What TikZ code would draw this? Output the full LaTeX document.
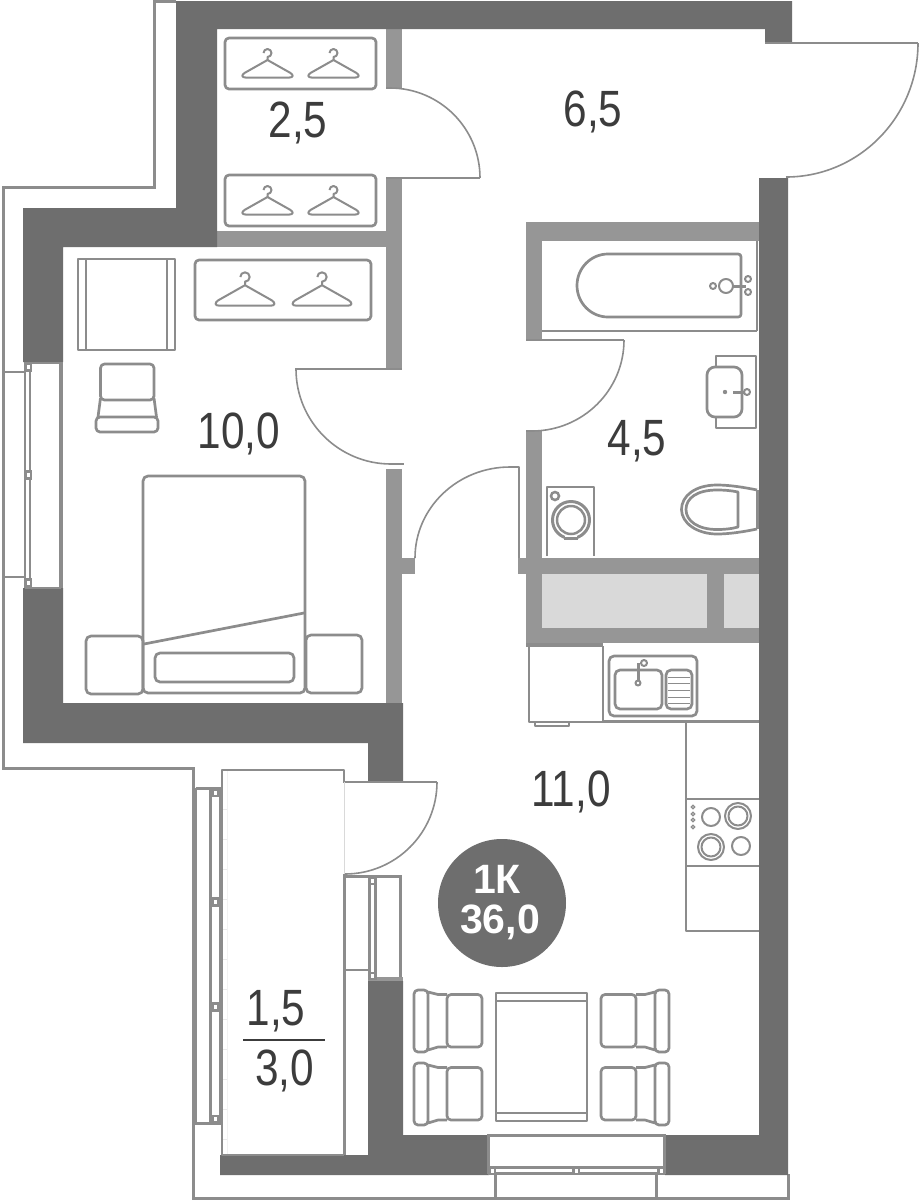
\documentclass[tikz,border=0pt]{standalone}
\usepackage{fontspec}
\setmainfont{Liberation Sans}
\usetikzlibrary{calc}
\definecolor{walldark}{HTML}{6E6E6E}
\definecolor{walllight}{HTML}{969696}
\definecolor{furn}{HTML}{8C8C8C}
\definecolor{shaft}{HTML}{D9D9D9}
\definecolor{numcol}{HTML}{3C3C3C}
\tikzset{
  dark/.style={fill=walldark,draw=none},
  light/.style={fill=walllight,draw=none},
  fline/.style={draw=furn,line width=2.7pt,line join=round},
  fthin/.style={draw=furn,line width=2pt,line join=round},
  rail/.style={draw=furn,line width=3pt,line join=miter},
  doorline/.style={draw=furn,line width=1.6pt},
  lbl/.style={anchor=base,inner sep=0pt,text=numcol,font=\fontsize{51}{51}\selectfont},
  badgetxt/.style={anchor=base,inner sep=0pt,text=white,font=\bfseries\fontsize{41}{41}\selectfont},
}
\newcommand{\doorarc}[3]{\draw[doorline] (#1) .. controls ($(#1)!.5523!(#2)$) and ($(#3)!.5523!(#2)$) .. (#3);}
\newcommand{\myhanger}[3]{\begin{scope}[shift={(#1,#2)},scale=#3]
 \draw[fthin] (0,7) -- (0,4) .. controls (2.2,4) and (4,2.2) .. (4,0) .. controls (4,-2.2) and (2.2,-4) .. (0,-4) .. controls (-2.2,-4) and (-4,-2.2) .. (-4,0);
 \draw[fthin] (0,7) -- (-23,20) .. controls (-26,22) and (-26,24.5) .. (-22,24.5) -- (22,24.5) .. controls (26,24.5) and (26,22) .. (23,20) -- cycle;
\end{scope}}
\newcommand{\mychair}[2]{%
 \draw[fline,rounded corners=4pt] (0,0) rectangle (14,62);
 \draw[fline,rounded corners=4pt] (33,4.5) rectangle (68,57);
 \draw[fline] (14,2) -- (24,4.5) -- (33,4.5);
 \draw[fline] (14,60) -- (24,57) -- (33,57);
}
% a frame block with a small white hole: x1 y1 x2 y2
\newcommand{\fblock}[4]{\fill[furn] (#1,#2) rectangle (#3,#4);
 \fill[white] ($(#1,#2)!.5!(#3,#4)+(-1.5,-2)$) rectangle ($(#1,#2)!.5!(#3,#4)+(1.5,2)$);}
\begin{document}
\begin{tikzpicture}[x=1pt,y=-1pt]
\useasboundingbox (0,0) rectangle (919,1200);
\fill[white] (0,0) rectangle (919,1200);
% railing
\draw[rail] (176,1) -- (154,1) -- (154,187) -- (3,187) -- (3,768) -- (193,768) -- (193,1198) -- (788,1198) -- (788,1174);
% shaft
\fill[shaft] (542,574) rectangle (759,628);
% light walls
\fill[light] (386,29) rectangle (402,88);
\fill[light] (386,178) rectangle (402,369);
\fill[light] (217,231) rectangle (402,247);
\fill[light] (386,469) rectangle (402,703);
\fill[light] (402,558) rectangle (415,574);
\fill[light] (526,222) rectangle (759,241);
\fill[light] (526,241) rectangle (542,340);
\fill[light] (526,431) rectangle (542,643);
\fill[light] (518,558) rectangle (759,574);
\fill[light] (526,628) rectangle (759,643);
\fill[light] (707,574) rectangle (723.5,628);
% dark walls
\fill[dark] (176,1) -- (792,1) -- (792,43) -- (765,43) -- (765,29) -- (217,29) -- (217,247) -- (63,247) -- (63,362) -- (23,362) -- (23,208) -- (176,208) -- cycle;
\fill[dark] (23,588) -- (63,588) -- (63,703) -- (403,703) -- (403,782) -- (368,782) -- (368,743) -- (23,743) -- cycle;
\fill[dark] (368,981) -- (403,981) -- (403,1135) -- (489,1135) -- (489,1175) -- (220,1175) -- (220,1155) -- (368,1155) -- cycle;
\fill[dark] (759,178) -- (788,178) -- (788,1175) -- (665,1175) -- (665,1135) -- (759,1135) -- cycle;
% doors
\draw[doorline] (386,88) -- (390,88); \doorarc{390,88}{480,88}{480,178}
\draw[doorline] (386,178) -- (480,178);
\draw[doorline] (765,43) -- (918,43); \doorarc{918,43}{918,177}{786,177}
\draw[doorline] (295,369) -- (402,369); \doorarc{296,369}{296,464}{391,464} \draw[doorline] (391,464) -- (404,464);
\draw[doorline] (526,340) -- (624,340); \doorarc{624,340}{624,431}{532,431} \draw[doorline] (526,431) -- (532,431);
\doorarc{415,558}{415,467}{510,467}
\draw[fthin] (510,467) -- (518.5,467) -- (518.5,558);
\draw[doorline] (343,782) -- (437,782); \doorarc{437,782}{437,874}{345,874}
\draw[draw=black!15,line width=.8pt] (344,782) -- (344,874);
% bedroom window
\draw[fthin] (25,363) -- (25,588);
\draw[draw=furn,line width=2.5pt] (30,363) -- (30,588);
\draw[fthin] (25,363) -- (61,363); \draw[fthin] (25,588) -- (61,588);
\draw[draw=furn,line width=4pt] (61,362) -- (61,588);
\draw[fthin] (3,372) -- (25,372); \draw[fthin] (3,577) -- (25,577);
\fblock{24}{362}{32}{372}
\fblock{24}{470}{32}{480}
\fblock{24}{578}{32}{588}
% balcony outline
\foreach \y in {809,839,...,1139} {\draw[draw=black!8,line width=.8pt] (222,\y) -- (227,\y);}
\draw[draw=black!5,line width=.8pt] (227,770) -- (227,1155);
\draw[fline] (344,782) -- (344,770) -- (222,770) -- (222,1155) -- (344,1155);
\draw[rail] (344,874) -- (344,1155);
% balcony left window
\draw[rail] (195.5,788) -- (195.5,1123) -- (222,1123);
\draw[rail] (195.5,788) -- (222,788);
\draw[draw=furn,line width=3pt] (210.5,788) -- (210.5,1123);
\draw[draw=furn,line width=3pt] (220.5,788) -- (220.5,1123);
\fblock{209}{788}{222}{797}
\fblock{209}{897}{222}{907}
\fblock{209}{1002}{222}{1012}
\fblock{209}{1115}{222}{1123}
% balcony door window
\draw[rail] (344,876) -- (400.5,876) -- (400.5,979);
\draw[draw=furn,line width=2.8pt] (369.5,876) -- (369.5,980);
\draw[draw=furn,line width=2.8pt] (375.5,876) -- (375.5,980);
\draw[fthin] (345,970) -- (369,970);
\fill[light] (368,977) rectangle (403,981);
\fblock{368}{877}{377}{885}
\fblock{368}{972}{377}{980}
% bottom window
\draw[rail] (488.5,1174) -- (488.5,1135.5) -- (664,1135.5) -- (664,1174);
\draw[draw=furn,line width=3pt] (489,1167.5) -- (664,1167.5);
\draw[draw=furn,line width=3pt] (489,1173.5) -- (664,1173.5);
\draw[rail] (495.5,1174) -- (495.5,1198);
\draw[rail] (656.5,1174) -- (656.5,1198);
\fblock{488}{1166}{496}{1175}
\fblock{572}{1166}{580}{1175}
\fblock{657}{1166}{665}{1175}
% wardrobes
\draw[fline,rounded corners=4pt] (225,38) rectangle (376,89);
\draw[fline,rounded corners=4pt] (225,175) rectangle (376,226);
\draw[fline,rounded corners=4pt] (195,260) rectangle (371,320);
\myhanger{267.5}{53}{1}
\myhanger{333.5}{53}{1}
\myhanger{267.5}{190}{1}
\myhanger{333.5}{190}{1}
\myhanger{245}{277}{1.17}
\myhanger{322}{277}{1.17}
% desk and chair
\draw[fline] (78,259) rectangle (175,350);
\draw[fthin] (85.5,259) -- (85.5,350);
\draw[fthin] (167,259) -- (167,350);
\draw[fline,rounded corners=4pt] (100.5,364) rectangle (154,400);
\draw[fline,rounded corners=4pt] (96,417) rectangle (158,432);
\draw[fline] (100.5,398) -- (98,417);
\draw[fline] (154,398) -- (156.5,417);
% bed
\draw[fline,rounded corners=5pt] (143,476) rectangle (305,693);
\draw[fline] (144,644) -- (304,613);
\draw[fline,rounded corners=5pt] (155,653) rectangle (294,682);
\draw[fline,rounded corners=5pt] (86,636) rectangle (143,694);
\draw[fline,rounded corners=5pt] (306,635) rectangle (362,693);
% bathroom
\draw[fline] (542,331) -- (757,331);
\draw[fline] (757,241) -- (757,331);
\draw[fline] (608,254) -- (738,254) .. controls (740,254) and (741,255) .. (741,257) -- (741,314) .. controls (741,316) and (740,317) .. (738,317) -- (608,317) .. controls (591,317) and (577,303) .. (577,285.5) .. controls (577,268) and (591,254) .. (608,254) -- cycle;
\draw[fthin] (726,286) circle[radius=7];
\draw[fthin] (713,286) circle[radius=3];
\draw[draw=furn,line width=3pt] (733,286) -- (746,286);
\draw[fthin] (748,279) circle[radius=3];
\draw[fthin] (748,292) circle[radius=3];
\draw[fthin] (716,367) -- (716,356) -- (756,356) -- (756,428) -- (716,428) -- (716,417);
\draw[fline,rounded corners=8pt] (707,367) rectangle (742,417);
\fill[furn] (725,392) circle[radius=2.2];
\draw[draw=furn,line width=3pt] (733,392) -- (744,392);
\draw[fthin,fill=white] (747,392) circle[radius=3];
% washing machine
\draw[fline] (547,556) -- (547,487) -- (594,487) -- (594,556);
\draw[draw=furn,line width=2.5pt] (555,496) circle[radius=4];
\draw[draw=furn,line width=3pt] (571,520) circle[radius=18.5];
\draw[draw=furn,line width=2.5pt] (571,520) circle[radius=14];
\draw[draw=furn,line width=2.5pt] (564,538.5) -- (578,538.5);
\draw[draw=white,line width=1pt] (565,536.3) -- (577,536.3);
% toilet
\draw[fline] (757,490) .. controls (745,487.5) and (730,485) .. (717,485) .. controls (695,485) and (681.5,496) .. (681.5,509.5) .. controls (681.5,523) and (697,534) .. (717,534) .. controls (730,534) and (745,531.5) .. (757,529);
\draw[fline] (738,492) .. controls (731,490.5) and (724,490) .. (717,490) .. controls (697,490) and (686,498) .. (686,509.5) .. controls (686,521) and (698,529.5) .. (717,529.5) .. controls (724,529.5) and (731,529) .. (738,527) -- cycle;
\draw[draw=furn,line width=3pt] (757,490) -- (757,529);
% kitchen
\draw[fline] (529,646) -- (529,722) -- (603,722) -- (603,646);
\draw[draw=furn,line width=3.5pt] (526,645) -- (603,645);
\draw[fline] (535,722) -- (535,726) -- (569,726) -- (569,722);
\draw[fline] (603,721.5) -- (759,721.5);
\draw[fline,rounded corners=5pt] (609,656) rectangle (697,716);
\draw[fline,rounded corners=5pt] (615,670) rectangle (662,709);
\draw[fline,rounded corners=5pt] (666,670) rectangle (692,709);
\foreach \y in {677,683,690,697,703} {\draw[draw=furn,line width=1pt] (668,\y) -- (690,\y);}
\draw[draw=furn,line width=3pt] (638,663) -- (638,680);
\draw[fthin] (644,663) circle[radius=3];
\draw[fthin] (638,683) circle[radius=2.5];
\draw[fline] (686,722) -- (686,931) -- (759,931);
\draw[fline] (686,799) -- (759,799);
\draw[fline] (686,866) -- (759,866);
\foreach \y in {807,814,820,827} {\draw[draw=furn,line width=1.2pt] (693,\y) circle[radius=1.8];}
\draw[fthin] (711,817) circle[radius=9];
\draw[fthin] (738,816) circle[radius=13];
\draw[fthin] (738,816) circle[radius=9.5];
\draw[fthin] (711,847) circle[radius=13];
\draw[fthin] (711,847) circle[radius=9.5];
\draw[fthin] (741,846) circle[radius=9];
% dining
\draw[fline] (496,993) rectangle (587,1121);
\draw[fline] (496,1001) -- (587,1001);
\draw[fline] (496,1113) -- (587,1113);
\begin{scope}[shift={(414,990)}]\mychair{}{}\end{scope}
\begin{scope}[shift={(414,1063)}]\mychair{}{}\end{scope}
\begin{scope}[shift={(669,990)},xscale=-1]\mychair{}{}\end{scope}
\begin{scope}[shift={(669,1063)},xscale=-1]\mychair{}{}\end{scope}
% labels
\newcommand{\nar}[1]{\scalebox{.83}[1]{#1}}
\node[lbl] (a25) at (298,137) {\nar{2,5}};
\node[lbl] (a65) at (593,126) {\nar{6,5}};
\node[lbl] (a100) at (239,448) {\nar{10,0}};
\node[lbl] (a45) at (637,455) {\nar{4,5}};
\node[lbl] (a110) at (571,806) {\nar{11,0}};
\node[lbl] (a15) at (276,1025) {\nar{1,5}};
\node[lbl] (a30) at (284.5,1085) {\nar{3,0}};
\draw[draw=numcol,line width=2.6pt] (243,1040) -- (325,1040);
% badge
\fill[walldark] (502,903) circle[radius=64];
\node[badgetxt] (b1) at (497,893) {1К};
\node[badgetxt] (b2) at (500,933) {36,0};
\end{tikzpicture}
\end{document}
